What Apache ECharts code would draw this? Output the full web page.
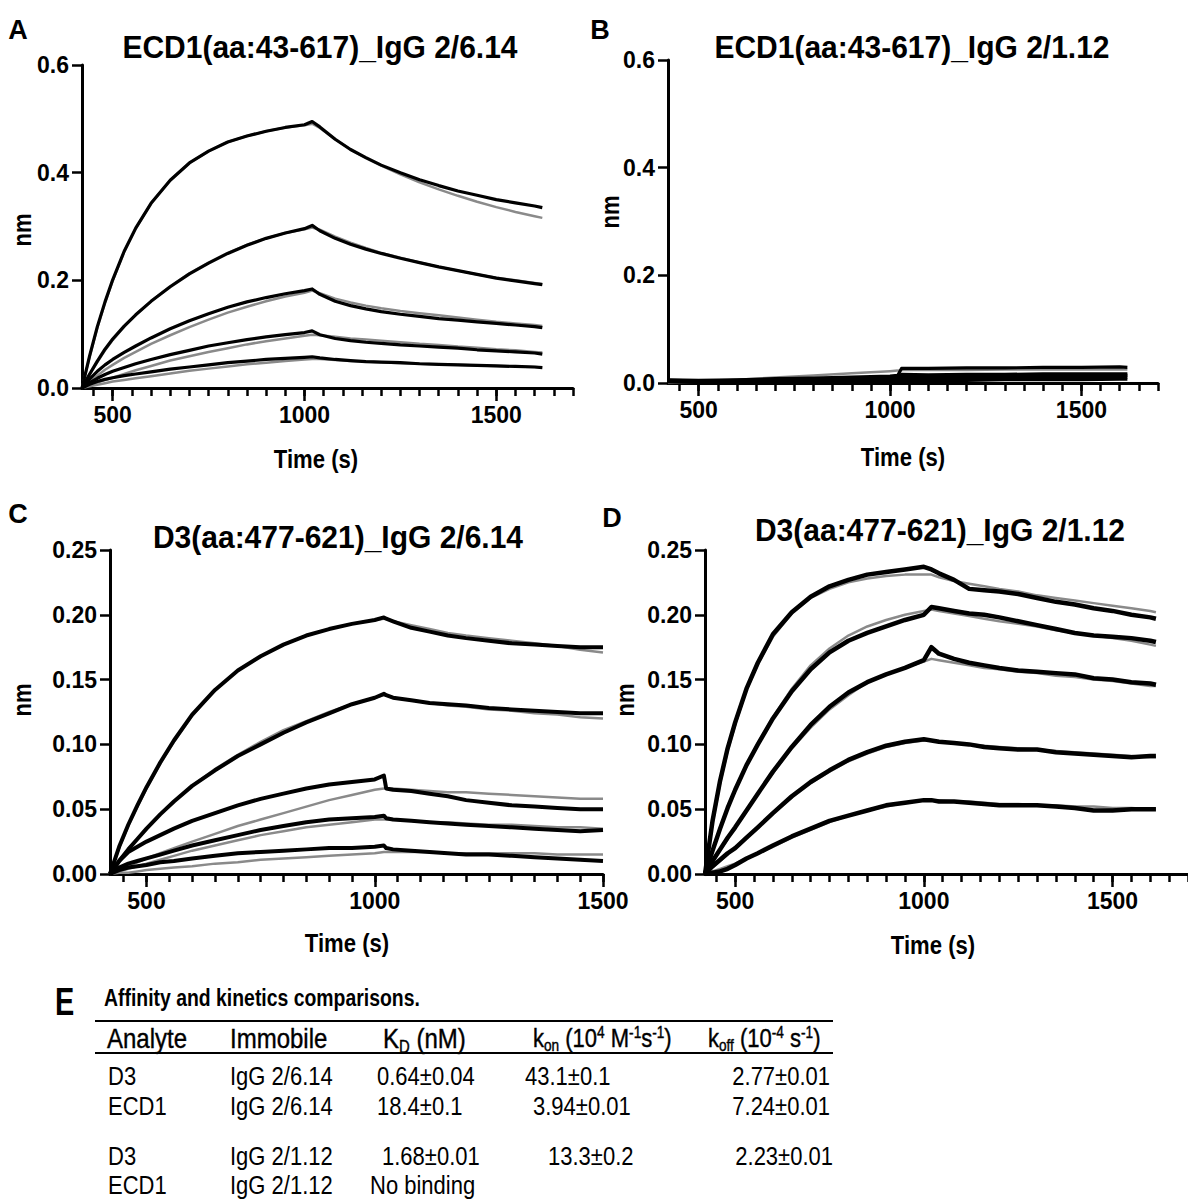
<!DOCTYPE html>
<html>
<head>
<meta charset="utf-8">
<script src="https://cdn.jsdelivr.net/npm/echarts@6/dist/echarts.min.js"></script>
<style>
  html, body { margin:0; padding:0; background:#fff; }
  #wrap { position:relative; width:1188px; height:1202px; overflow:hidden; }
  #chart { position:absolute; left:0; top:0; width:1188px; height:1202px; }
  .t { position:absolute; font-family:'Liberation Sans',Arial,sans-serif; color:#000; white-space:nowrap; line-height:30px; height:30px; }
  .hd { -webkit-text-stroke:0.35px #000; }
  .rule { position:absolute; background:#000; height:1.5px; }
  sub { font-size:62%; vertical-align:-0.25em; line-height:0; }
  sup { font-size:62%; vertical-align:0.55em; line-height:0; }
</style>
</head>
<body>
<div id="wrap">
  <div id="chart"></div>
  <div id="table"></div>
</div>
<script>
// ---------------- DATA ----------------
// Panel A: ECD1(aa:43-617)_IgG 2/6.14
const tA = [420,440,460,480,500,530,560,600,650,700,750,800,850,900,950,1000,1020,1040,1080,1120,1160,1200,1250,1300,1350,1400,1450,1500,1550,1600,1620];
const a1 = [0,0.060,0.114,0.160,0.201,0.254,0.297,0.343,0.386,0.418,0.440,0.457,0.468,0.477,0.484,0.489,0.495,0.485,0.462,0.443,0.428,0.414,0.400,0.387,0.376,0.366,0.358,0.350,0.344,0.338,0.335];
const a1Fit = [0,0.058,0.112,0.158,0.199,0.253,0.296,0.343,0.386,0.418,0.440,0.457,0.468,0.477,0.484,0.488,0.491,0.483,0.462,0.443,0.427,0.413,0.397,0.382,0.369,0.357,0.346,0.336,0.327,0.319,0.316];
const a2 = [0,0.026,0.050,0.072,0.091,0.115,0.136,0.161,0.188,0.212,0.232,0.250,0.265,0.278,0.288,0.296,0.302,0.292,0.278,0.267,0.258,0.250,0.241,0.233,0.225,0.218,0.211,0.204,0.199,0.194,0.192];
const a2Fit = [0,0.025,0.048,0.070,0.089,0.114,0.136,0.161,0.189,0.213,0.233,0.251,0.266,0.278,0.288,0.295,0.298,0.294,0.281,0.270,0.260,0.251,0.242,0.233,0.225,0.218,0.211,0.205,0.200,0.195,0.193];
const a3 = [0,0.017,0.031,0.043,0.053,0.066,0.078,0.093,0.110,0.125,0.138,0.150,0.160,0.168,0.175,0.181,0.184,0.174,0.161,0.153,0.147,0.142,0.137,0.133,0.129,0.126,0.123,0.120,0.117,0.114,0.112];
const a3Fit = [0,0.012,0.023,0.034,0.043,0.056,0.067,0.082,0.098,0.113,0.127,0.140,0.151,0.161,0.170,0.177,0.181,0.176,0.166,0.159,0.153,0.148,0.143,0.139,0.135,0.131,0.127,0.123,0.120,0.117,0.115];
const a4 = [0,0.010,0.018,0.025,0.031,0.038,0.045,0.053,0.062,0.070,0.078,0.084,0.090,0.095,0.099,0.103,0.106,0.099,0.092,0.088,0.085,0.083,0.080,0.078,0.076,0.074,0.071,0.069,0.067,0.065,0.063];
const a4Fit = [0,0.005,0.010,0.015,0.019,0.026,0.033,0.041,0.051,0.059,0.067,0.074,0.081,0.087,0.092,0.097,0.099,0.098,0.095,0.092,0.090,0.088,0.085,0.082,0.080,0.077,0.075,0.072,0.070,0.067,0.066];
const a5 = [0,0.007,0.012,0.016,0.019,0.023,0.026,0.030,0.035,0.039,0.043,0.047,0.050,0.053,0.055,0.057,0.058,0.056,0.053,0.051,0.049,0.048,0.047,0.045,0.044,0.043,0.042,0.041,0.040,0.039,0.038];
const a5Fit = [0,0.003,0.006,0.009,0.012,0.015,0.018,0.022,0.027,0.032,0.036,0.040,0.044,0.047,0.050,0.053,0.054,0.054,0.052,0.050,0.049,0.048,0.046,0.045,0.044,0.043,0.042,0.041,0.040,0.039,0.038];

// Panel B: ECD1(aa:43-617)_IgG 2/1.12
const tB = [420,500,600,700,800,900,1000,1020,1030,1100,1200,1300,1400,1500,1600,1620];
const b1 = [0.006,0.005,0.006,0.008,0.009,0.011,0.013,0.014,0.027,0.027,0.028,0.028,0.029,0.029,0.030,0.029];
const b2 = [0.005,0.004,0.005,0.006,0.008,0.009,0.010,0.011,0.016,0.015,0.016,0.016,0.017,0.017,0.017,0.017];
const b3 = [0.004,0.003,0.004,0.005,0.006,0.007,0.008,0.009,0.012,0.011,0.012,0.012,0.013,0.013,0.014,0.014];
const b4 = [0.003,0.002,0.003,0.004,0.005,0.006,0.007,0.007,0.008,0.008,0.009,0.009,0.010,0.010,0.011,0.011];
const b5 = [0.002,0.001,0.002,0.002,0.003,0.003,0.004,0.004,0.005,0.005,0.005,0.006,0.006,0.006,0.007,0.007];
const b1Fit = [0.000,0.002,0.006,0.010,0.014,0.018,0.022,0.023,0.024,0.024,0.024,0.025,0.025,0.025,0.025,0.025];

// Panel C: D3(aa:477-621)_IgG 2/6.14
const tC = [420,440,460,480,500,530,560,600,650,700,750,800,850,900,950,1000,1020,1025,1040,1080,1120,1160,1200,1250,1300,1350,1400,1450,1500];
const c1 = [0,0.021,0.038,0.053,0.067,0.086,0.103,0.123,0.142,0.157,0.168,0.177,0.184,0.189,0.193,0.196,0.198,0.197,0.195,0.190,0.187,0.184,0.182,0.180,0.178,0.177,0.176,0.175,0.175];
const c1Fit = [0,0.020,0.037,0.052,0.066,0.085,0.102,0.122,0.142,0.157,0.168,0.177,0.184,0.189,0.193,0.196,0.197,0.197,0.195,0.192,0.189,0.186,0.184,0.182,0.180,0.178,0.176,0.173,0.171];
const c2 = [0,0.010,0.019,0.027,0.035,0.046,0.056,0.068,0.080,0.091,0.100,0.109,0.117,0.124,0.131,0.136,0.139,0.138,0.136,0.134,0.132,0.131,0.130,0.128,0.127,0.126,0.125,0.124,0.124];
const c2Fit = [0,0.010,0.019,0.027,0.035,0.046,0.056,0.068,0.081,0.092,0.102,0.111,0.118,0.125,0.131,0.136,0.138,0.138,0.136,0.134,0.132,0.130,0.129,0.127,0.126,0.124,0.123,0.121,0.120];
const c3 = [0,0.010,0.017,0.021,0.025,0.030,0.035,0.041,0.047,0.053,0.058,0.062,0.066,0.069,0.071,0.073,0.076,0.066,0.065,0.064,0.062,0.060,0.057,0.055,0.053,0.052,0.051,0.050,0.050];
const c3Fit = [0,0.003,0.006,0.009,0.012,0.016,0.020,0.025,0.031,0.037,0.042,0.047,0.052,0.057,0.061,0.065,0.066,0.066,0.066,0.065,0.064,0.063,0.063,0.062,0.061,0.060,0.059,0.058,0.058];
const c4 = [0,0.005,0.008,0.010,0.012,0.015,0.018,0.022,0.026,0.030,0.034,0.037,0.040,0.042,0.043,0.044,0.045,0.043,0.042,0.041,0.040,0.039,0.038,0.037,0.036,0.035,0.034,0.033,0.034];
const c4Fit = [0,0.002,0.004,0.006,0.008,0.011,0.014,0.018,0.022,0.026,0.030,0.033,0.036,0.038,0.040,0.042,0.042,0.042,0.042,0.041,0.040,0.040,0.039,0.038,0.038,0.037,0.036,0.036,0.035];
const c5 = [0,0.003,0.005,0.006,0.007,0.009,0.010,0.012,0.014,0.016,0.017,0.018,0.019,0.020,0.020,0.021,0.022,0.020,0.019,0.018,0.017,0.016,0.015,0.015,0.014,0.013,0.012,0.011,0.010];
const c5Fit = [0,0.001,0.001,0.002,0.003,0.004,0.005,0.006,0.008,0.009,0.011,0.012,0.013,0.014,0.015,0.016,0.017,0.017,0.017,0.017,0.017,0.016,0.016,0.016,0.016,0.016,0.015,0.015,0.015];

// Panel D: D3(aa:477-621)_IgG 2/1.12
const tD = [420,440,460,480,500,530,560,600,650,700,750,800,850,900,950,1000,1020,1040,1080,1120,1160,1200,1250,1300,1350,1400,1450,1500,1550,1600,1615];
const d1 = [0,0.041,0.072,0.097,0.117,0.143,0.163,0.185,0.202,0.214,0.222,0.227,0.231,0.233,0.235,0.237,0.235,0.232,0.227,0.220,0.219,0.218,0.216,0.213,0.210,0.208,0.205,0.203,0.200,0.198,0.197];
const d1Fit = [0,0.039,0.070,0.095,0.115,0.142,0.162,0.183,0.201,0.213,0.220,0.225,0.228,0.230,0.231,0.231,0.231,0.229,0.226,0.224,0.222,0.220,0.218,0.215,0.213,0.211,0.209,0.207,0.205,0.203,0.202];
const d2 = [0,0.018,0.035,0.051,0.065,0.084,0.100,0.120,0.141,0.158,0.171,0.180,0.186,0.191,0.196,0.200,0.206,0.205,0.203,0.201,0.200,0.198,0.195,0.192,0.189,0.186,0.184,0.183,0.182,0.180,0.179];
const d2Fit = [0,0.018,0.035,0.051,0.065,0.084,0.101,0.121,0.143,0.161,0.174,0.184,0.191,0.196,0.200,0.203,0.204,0.203,0.201,0.199,0.197,0.195,0.193,0.191,0.188,0.186,0.184,0.182,0.180,0.177,0.176];
const d3 = [0,0.010,0.019,0.028,0.036,0.049,0.062,0.079,0.098,0.115,0.129,0.140,0.148,0.154,0.159,0.165,0.175,0.170,0.166,0.163,0.161,0.159,0.157,0.156,0.155,0.154,0.151,0.150,0.148,0.147,0.146];
const d3Fit = [0,0.009,0.018,0.027,0.036,0.049,0.062,0.078,0.097,0.113,0.127,0.138,0.148,0.154,0.159,0.164,0.166,0.165,0.163,0.161,0.159,0.158,0.156,0.155,0.153,0.152,0.150,0.149,0.147,0.145,0.145];
const d4 = [0,0.006,0.011,0.016,0.020,0.028,0.036,0.047,0.060,0.071,0.080,0.088,0.094,0.099,0.102,0.104,0.103,0.102,0.101,0.100,0.098,0.097,0.096,0.096,0.094,0.093,0.092,0.091,0.090,0.091,0.091];
const d4Fit = [0,0.005,0.010,0.015,0.020,0.028,0.036,0.047,0.059,0.070,0.079,0.087,0.093,0.098,0.101,0.103,0.103,0.102,0.101,0.100,0.099,0.098,0.097,0.096,0.095,0.094,0.093,0.092,0.091,0.090,0.090];
const d5 = [0,0.001,0.002,0.004,0.007,0.012,0.016,0.022,0.029,0.035,0.041,0.045,0.049,0.053,0.055,0.057,0.057,0.056,0.056,0.055,0.054,0.053,0.053,0.053,0.052,0.051,0.049,0.049,0.050,0.050,0.050];
const d5Fit = [0,0.002,0.004,0.006,0.008,0.012,0.016,0.021,0.028,0.034,0.040,0.045,0.049,0.052,0.055,0.057,0.057,0.057,0.056,0.056,0.055,0.054,0.054,0.053,0.053,0.052,0.052,0.051,0.051,0.050,0.050];

// Tick values / labels
const xMajorTicks = [500, 1000, 1500];
const xMinorTicksLong = [450,500,550,600,650,700,750,800,850,900,950,1000,1050,1100,1150,1200,1250,1300,1350,1400,1450,1500,1550,1600,1650,1700];
const xMinorTicksShort = [450,500,550,600,650,700,750,800,850,900,950,1000,1050,1100,1150,1200,1250,1300,1350,1400,1450,1500];
const yTicksAB = [0, 0.2, 0.4, 0.6];
const yTicksCD = [0, 0.05, 0.10, 0.15, 0.20, 0.25];

// Text
const panelLetters = ['A', 'B', 'C', 'D'];
const panelTitles = ['ECD1(aa:43-617)_IgG 2/6.14', 'ECD1(aa:43-617)_IgG 2/1.12', 'D3(aa:477-621)_IgG 2/6.14', 'D3(aa:477-621)_IgG 2/1.12'];
const xName = 'Time (s)';
const yName = 'nm';

// Table E
const tableLetter = 'E';
const tableTitle = 'Affinity and kinetics comparisons.';
const tableHeaders = ['Analyte', 'Immobile', 'K<sub>D</sub> (nM)', 'k<sub>on</sub> (10<sup>4</sup> M<sup>-1</sup>s<sup>-1</sup>)', 'k<sub>off</sub> (10<sup>-4</sup> s<sup>-1</sup>)'];
const colAnalyte = ['D3', 'ECD1', 'D3', 'ECD1'];
const colImmobile = ['IgG 2/6.14', 'IgG 2/6.14', 'IgG 2/1.12', 'IgG 2/1.12'];
const colKD = ['0.64±0.04', '18.4±0.1', '1.68±0.01', 'No binding'];
const colKon = ['43.1±0.1', '3.94±0.01', '13.3±0.2', ''];
const colKoff = ['2.77±0.01', '7.24±0.01', '2.23±0.01', ''];

// ---------------- LAYOUT ----------------
const SANS = "'Liberation Sans',Arial,sans-serif";
const grids = [
  { left: 82,  top: 65,  width: 491, height: 323, xmax: 1700, ymax: 0.6,  yt: yTicksAB, dec: 1 },
  { left: 668, top: 60,  width: 490, height: 323, xmax: 1700, ymax: 0.6,  yt: yTicksAB, dec: 1 },
  { left: 110, top: 550, width: 493, height: 324, xmax: 1500, ymax: 0.25, yt: yTicksCD, dec: 2 },
  { left: 705, top: 550, width: 492, height: 324, xmax: 1700, ymax: 0.25, yt: yTicksCD, dec: 2 }
];
const lineWidths = [3.2, 3.2, 4, 4.5];
const letterPos = [[18, 30], [600, 30], [18, 514], [612, 518]];
const titlePos = [[320, 47], [912, 47], [338, 537], [940, 530]];
const xNamePos = [[316, 459], [903, 457], [347, 943], [933, 945]];
const yNamePos = [[22, 230], [610, 212], [22, 700], [625, 700]];

const labelStyle = { color: '#000', fontSize: 23, fontWeight: 'bold', fontFamily: SANS };

const xAxis = [];
const yAxis = [];
grids.forEach((g, i) => {
  const minors = g.xmax === 1500 ? xMinorTicksShort : xMinorTicksLong;
  xAxis.push({
    type: 'value', gridIndex: i, min: 420, max: g.xmax, position: 'bottom',
    axisLine: { show: true, onZero: false, lineStyle: { color: '#000', width: 3 } },
    axisTick: { show: true, inside: false, length: 8, customValues: minors, lineStyle: { color: '#000', width: 2.5 } },
    axisLabel: Object.assign({ show: true, margin: 15, customValues: xMajorTicks, formatter: v => String(v) }, labelStyle),
    splitLine: { show: false }
  });
  xAxis.push({
    type: 'value', gridIndex: i, min: 420, max: g.xmax, position: 'bottom',
    axisLine: { show: false },
    axisTick: { show: true, inside: false, length: 13, customValues: xMajorTicks, lineStyle: { color: '#000', width: 2.5 } },
    axisLabel: { show: false },
    splitLine: { show: false }
  });
  yAxis.push({
    type: 'value', gridIndex: i, min: 0, max: g.ymax,
    axisLine: { show: true, onZero: false, lineStyle: { color: '#000', width: 3 } },
    axisTick: { show: true, inside: false, length: 10, customValues: g.yt, lineStyle: { color: '#000', width: 2.5 } },
    axisLabel: Object.assign({ show: true, margin: 13, customValues: g.yt, formatter: v => v.toFixed(g.dec) }, labelStyle),
    splitLine: { show: false }
  });
});

function line(gi, t, v, isFit) {
  return {
    type: 'line', xAxisIndex: gi * 2, yAxisIndex: gi,
    data: t.map((x, k) => [x, v[k]]),
    showSymbol: false, symbol: 'none', silent: true, smooth: false,
    lineStyle: isFit ? { color: '#8a8a8a', width: 2.5, join: 'round' } : { color: '#000', width: lineWidths[gi], join: 'round' },
    z: isFit ? 2 : 3, animation: false
  };
}

const series = [
  line(0, tA, a1Fit, true), line(0, tA, a2Fit, true), line(0, tA, a3Fit, true), line(0, tA, a4Fit, true), line(0, tA, a5Fit, true),
  line(0, tA, a1), line(0, tA, a2), line(0, tA, a3), line(0, tA, a4), line(0, tA, a5),
  line(1, tB, b1Fit, true),
  line(1, tB, b1), line(1, tB, b2), line(1, tB, b3), line(1, tB, b4), line(1, tB, b5),
  line(2, tC, c1Fit, true), line(2, tC, c2Fit, true), line(2, tC, c3Fit, true), line(2, tC, c4Fit, true), line(2, tC, c5Fit, true),
  line(2, tC, c1), line(2, tC, c2), line(2, tC, c3), line(2, tC, c4), line(2, tC, c5),
  line(3, tD, d1Fit, true), line(3, tD, d2Fit, true), line(3, tD, d3Fit, true), line(3, tD, d4Fit, true), line(3, tD, d5Fit, true),
  line(3, tD, d1), line(3, tD, d2), line(3, tD, d3), line(3, tD, d4), line(3, tD, d5)
];

const graphic = [];
for (let i = 0; i < 4; i++) {
  graphic.push({ type: 'text', x: letterPos[i][0], y: letterPos[i][1], silent: true,
    style: { text: panelLetters[i], fill: '#000', font: 'bold 27px ' + SANS, align: 'center', verticalAlign: 'middle' } });
  graphic.push({ type: 'text', x: titlePos[i][0], y: titlePos[i][1], silent: true, scaleY: 1.05,
    style: { text: panelTitles[i], fill: '#000', font: 'bold 30px ' + SANS, align: 'center', verticalAlign: 'middle' } });
  graphic.push({ type: 'text', x: xNamePos[i][0], y: xNamePos[i][1], silent: true, scaleX: 0.85,
    style: { text: xName, fill: '#000', font: 'bold 26px ' + SANS, align: 'center', verticalAlign: 'middle' } });
  graphic.push({ type: 'text', x: yNamePos[i][0], y: yNamePos[i][1], rotation: Math.PI / 2, scaleX: 0.85, silent: true,
    style: { text: yName, fill: '#000', font: 'bold 26px ' + SANS, align: 'center', verticalAlign: 'middle' } });
}

const chart = echarts.init(document.getElementById('chart'), null, { renderer: 'svg', width: 1188, height: 1202 });
chart.setOption({
  animation: false,
  backgroundColor: '#fff',
  grid: grids.map(g => ({ left: g.left, top: g.top, width: g.width, height: g.height, containLabel: false })),
  xAxis: xAxis,
  yAxis: yAxis,
  series: series,
  graphic: graphic
});

// ---------------- TABLE E ----------------
const tbl = document.getElementById('table');
function addText(html, left, cy, o) {
  o = o || {};
  const d = document.createElement('div');
  d.className = 't' + (o.cls ? ' ' + o.cls : '');
  d.innerHTML = html;
  d.style.top = (cy - 15) + 'px';
  d.style.fontSize = (o.size || 22) + 'px';
  if (o.bold) d.style.fontWeight = 'bold';
  if (o.right !== undefined) { d.style.right = (1188 - o.right) + 'px'; d.style.transformOrigin = 'right center'; }
  else { d.style.left = left + 'px'; d.style.transformOrigin = 'left center'; }
  if (o.tf) d.style.transform = o.tf;
  tbl.appendChild(d);
}
function addRule(left, top, width) {
  const d = document.createElement('div');
  d.className = 'rule';
  d.style.left = left + 'px'; d.style.top = top + 'px'; d.style.width = width + 'px';
  tbl.appendChild(d);
}
addText(tableLetter, 55, 1001, { size: 34, bold: true, tf: 'scale(0.85, 1.15)' });
addText(tableTitle, 104, 997, { size: 20, bold: true, tf: 'scale(0.97, 1.22)' });
addRule(95, 1020, 738);
addRule(95, 1052, 738);
const headerLeft = [107, 230, 383, 533, 708];
tableHeaders.forEach((h, i) => addText(h, headerLeft[i], 1039, { size: i >= 3 ? 22 : 24, cls: 'hd', tf: 'scale(1, 1.18)' }));
const rowY = [1077, 1107, 1157, 1186];
const kdLeft = [377, 377, 382, 370];
const konLeft = [525, 533, 548, 548];
const koffRight = [830, 830, 833, 833];
for (let r = 0; r < 4; r++) {
  const tf = 'scale(1, 1.2)';
  addText(colAnalyte[r], 108, rowY[r], { tf });
  addText(colImmobile[r], 230, rowY[r], { tf });
  addText(colKD[r], kdLeft[r], rowY[r], { tf });
  if (colKon[r]) addText(colKon[r], konLeft[r], rowY[r], { tf });
  if (colKoff[r]) addText(colKoff[r], 0, rowY[r], { right: koffRight[r], tf });
}
</script>
</body>
</html>
